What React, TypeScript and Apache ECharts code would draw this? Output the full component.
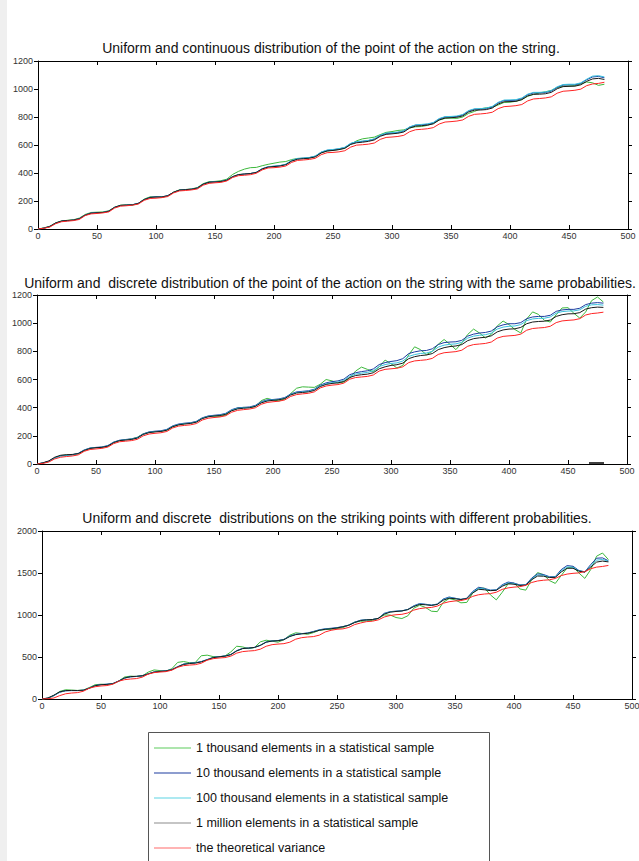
import React, { useEffect, useRef } from "react";
import * as echarts from "echarts";

const xValues = [
  0, 5, 10, 15, 20, 25, 30, 35, 40, 45, 50, 55, 60, 65, 70, 75, 80, 85, 90, 95,
  100, 105, 110, 115, 120, 125, 130, 135, 140, 145, 150, 155, 160, 165, 170, 175, 180, 185, 190, 195,
  200, 205, 210, 215, 220, 225, 230, 235, 240, 245, 250, 255, 260, 265, 270, 275, 280, 285, 290, 295,
  300, 305, 310, 315, 320, 325, 330, 335, 340, 345, 350, 355, 360, 365, 370, 375, 380, 385, 390, 395,
  400, 405, 410, 415, 420, 425, 430, 435, 440, 445, 450, 455, 460, 465, 470, 475, 480,
];

// Panel 1
const p1Red = [
  0, 5, 14, 38, 52, 56, 60, 68, 96, 108, 111, 115, 122, 150, 163, 166, 170, 178, 205, 218,
  220, 224, 232, 258, 272, 275, 279, 286, 313, 326, 330, 333, 343, 368, 381, 384, 388, 398, 422, 436,
  438, 442, 450, 476, 490, 493, 497, 505, 531, 545, 547, 551, 559, 585, 599, 602, 606, 614, 640, 654,
  657, 661, 669, 695, 709, 712, 716, 724, 750, 764, 767, 771, 779, 805, 819, 822, 826, 834, 860, 874,
  877, 881, 889, 915, 929, 932, 936, 944, 970, 984, 987, 991, 999, 1024, 1036, 1040, 1048,
];
const p1Blue = [
  0, 6, 18, 42, 56, 60, 63, 74, 100, 114, 117, 118, 128, 155, 168, 170, 173, 184, 210, 226,
  230, 229, 238, 262, 278, 282, 284, 293, 320, 334, 337, 340, 350, 374, 388, 392, 396, 405, 430, 444,
  448, 452, 462, 488, 502, 506, 510, 520, 548, 562, 566, 572, 582, 610, 622, 626, 632, 642, 668, 682,
  686, 690, 700, 728, 742, 744, 748, 758, 786, 800, 801, 804, 815, 843, 856, 856, 860, 872, 902, 918,
  918, 920, 932, 960, 972, 972, 975, 985, 1012, 1028, 1030, 1030, 1040, 1066, 1086, 1090, 1080,
];
const p1Cyan = [
  0, 6, 17, 41, 55, 59, 63, 73, 99, 113, 116, 119, 127, 154, 167, 170, 174, 183, 209, 225,
  229, 230, 237, 262, 277, 281, 284, 292, 319, 333, 337, 340, 349, 374, 388, 392, 396, 405, 431, 445,
  449, 453, 463, 490, 504, 507, 511, 521, 550, 564, 568, 574, 584, 612, 624, 628, 633, 644, 670, 685,
  688, 692, 702, 730, 744, 747, 751, 761, 789, 803, 804, 807, 818, 846, 859, 860, 864, 876, 905, 921,
  922, 924, 936, 963, 976, 976, 979, 989, 1016, 1032, 1034, 1034, 1044, 1070, 1092, 1095, 1086,
];
const p1Black = [
  0, 6, 18, 43, 57, 61, 64, 73, 99, 113, 116, 118, 127, 155, 169, 171, 173, 183, 210, 225,
  229, 229, 238, 263, 278, 281, 284, 292, 320, 334, 336, 339, 348, 374, 389, 393, 396, 404, 429, 442,
  446, 450, 459, 485, 498, 502, 506, 515, 543, 557, 561, 567, 576, 604, 616, 620, 626, 636, 662, 676,
  680, 684, 693, 721, 735, 738, 742, 751, 779, 793, 795, 798, 808, 836, 849, 850, 853, 864, 893, 909,
  910, 912, 924, 951, 962, 963, 966, 976, 1002, 1017, 1019, 1020, 1030, 1055, 1072, 1076, 1068,
];
const p1Green = [
  0, 8, 20, 44, 58, 62, 66, 78, 104, 118, 120, 122, 130, 156, 170, 172, 170, 182, 214, 230,
  228, 226, 236, 264, 280, 282, 286, 296, 324, 338, 340, 345, 356, 390, 412, 428, 438, 440, 452, 462,
  470, 478, 482, 496, 504, 505, 508, 518, 545, 558, 562, 568, 578, 605, 630, 644, 650, 656, 674, 690,
  696, 704, 708, 722, 730, 732, 740, 755, 778, 790, 792, 790, 800, 826, 840, 858, 866, 870, 886, 904,
  906, 912, 924, 948, 962, 972, 980, 990, 1010, 1020, 1022, 1024, 1036, 1050, 1044, 1026, 1034,
];

// Panel 2
const p2Red = [
  0, 4, 14, 36, 48, 53, 57, 65, 90, 103, 107, 111, 120, 145, 158, 162, 166, 175, 200, 213,
  218, 222, 231, 256, 269, 274, 278, 287, 312, 325, 330, 334, 343, 368, 381, 386, 390, 399, 424, 437,
  442, 446, 455, 480, 493, 498, 502, 512, 540, 554, 560, 564, 574, 602, 614, 618, 622, 632, 660, 672,
  676, 680, 690, 720, 732, 736, 740, 750, 778, 790, 794, 798, 808, 836, 848, 852, 856, 866, 894, 906,
  910, 913, 922, 950, 962, 966, 969, 978, 1004, 1016, 1020, 1023, 1032, 1058, 1068, 1072, 1078,
];
const p2Blue = [
  0, 8, 20, 44, 58, 62, 66, 76, 100, 114, 118, 121, 131, 156, 169, 174, 178, 188, 214, 228,
  233, 236, 246, 271, 284, 290, 293, 303, 328, 341, 346, 350, 360, 386, 399, 402, 405, 416, 442, 455,
  458, 462, 472, 497, 512, 516, 520, 531, 560, 576, 585, 590, 602, 634, 648, 656, 662, 675, 706, 720,
  728, 734, 748, 784, 796, 804, 806, 818, 848, 862, 866, 868, 878, 908, 922, 930, 934, 944, 974, 988,
  996, 996, 1004, 1032, 1044, 1048, 1048, 1056, 1084, 1094, 1098, 1098, 1106, 1132, 1142, 1146, 1142,
];
const p2Cyan = [
  0, 7, 19, 42, 56, 60, 64, 74, 98, 112, 116, 119, 129, 154, 167, 172, 176, 186, 211, 225,
  230, 233, 243, 268, 281, 287, 290, 300, 325, 338, 343, 347, 357, 382, 395, 399, 402, 412, 438, 451,
  455, 459, 468, 494, 508, 512, 516, 527, 555, 570, 578, 582, 594, 624, 638, 645, 650, 662, 692, 706,
  714, 718, 731, 764, 777, 785, 788, 800, 830, 844, 850, 853, 864, 894, 908, 914, 918, 929, 958, 972,
  978, 980, 990, 1018, 1030, 1034, 1035, 1044, 1071, 1082, 1086, 1087, 1095, 1120, 1130, 1132, 1128,
];
const p2Black = [
  0, 8, 22, 48, 62, 66, 68, 74, 96, 110, 116, 118, 127, 152, 166, 170, 174, 184, 210, 223,
  228, 231, 240, 265, 278, 284, 288, 297, 322, 335, 341, 344, 353, 378, 391, 396, 399, 409, 434, 447,
  452, 456, 465, 490, 504, 508, 512, 522, 550, 565, 572, 576, 586, 614, 628, 634, 638, 648, 676, 690,
  700, 705, 716, 748, 762, 770, 774, 784, 812, 826, 834, 838, 848, 876, 890, 896, 900, 910, 938, 952,
  958, 960, 970, 996, 1008, 1012, 1014, 1022, 1048, 1060, 1066, 1067, 1075, 1100, 1110, 1114, 1112,
];
const p2Green = [
  0, 6, 18, 44, 60, 64, 66, 72, 96, 112, 116, 118, 126, 152, 166, 172, 178, 190, 214, 226,
  230, 232, 240, 264, 278, 286, 290, 300, 326, 338, 340, 338, 348, 380, 398, 402, 400, 408, 450, 466,
  455, 448, 462, 500, 538, 548, 546, 544, 566, 600, 590, 575, 582, 610, 660, 688, 672, 656, 690, 738,
  712, 682, 700, 775, 832, 812, 776, 800, 850, 884, 850, 812, 860, 920, 958, 930, 895, 920, 980, 1015,
  990, 955, 930, 1030, 1080, 1062, 1020, 1008, 1060, 1108, 1110, 1070, 1036, 1080, 1160, 1186, 1150,
];

// Panel 3
const p3Red = [
  0, 3, 12, 40, 62, 71, 76, 92, 128, 146, 155, 160, 176, 212, 230, 238, 243, 260, 296, 314,
  321, 326, 343, 378, 397, 404, 409, 426, 462, 480, 488, 493, 510, 546, 564, 571, 576, 593, 628, 647,
  654, 659, 676, 712, 730, 738, 743, 760, 798, 818, 830, 835, 852, 886, 905, 921, 926, 942, 976, 994,
  1003, 1008, 1024, 1058, 1076, 1085, 1090, 1106, 1140, 1158, 1167, 1172, 1188, 1222, 1241, 1250, 1255, 1271, 1305, 1323,
  1332, 1337, 1353, 1387, 1405, 1414, 1419, 1435, 1469, 1487, 1496, 1501, 1517, 1551, 1570, 1578, 1590,
];
const p3Blue = [
  0, 10, 40, 80, 98, 100, 100, 104, 130, 160, 172, 176, 184, 215, 250, 264, 268, 276, 300, 322,
  330, 336, 350, 385, 416, 426, 432, 446, 470, 495, 504, 512, 530, 576, 602, 606, 614, 640, 680, 692,
  696, 710, 750, 770, 778, 786, 804, 824, 836, 842, 850, 862, 880, 915, 938, 944, 946, 960, 1020, 1040,
  1046, 1050, 1066, 1110, 1136, 1128, 1118, 1130, 1190, 1214, 1200, 1186, 1200, 1280, 1330, 1316, 1296, 1300, 1360, 1392,
  1380, 1358, 1360, 1440, 1490, 1482, 1456, 1456, 1540, 1588, 1580, 1530, 1514, 1600, 1676, 1680, 1646,
];
const p3Cyan = [
  0, 11, 42, 82, 99, 101, 100, 104, 129, 159, 171, 175, 183, 214, 250, 265, 269, 276, 299, 321,
  329, 335, 349, 384, 414, 424, 430, 444, 468, 494, 503, 511, 529, 574, 601, 606, 614, 639, 678, 691,
  695, 708, 747, 768, 777, 784, 801, 821, 833, 839, 848, 861, 879, 912, 936, 943, 946, 960, 1015, 1037,
  1044, 1049, 1065, 1105, 1131, 1125, 1116, 1128, 1183, 1207, 1197, 1185, 1198, 1271, 1318, 1308, 1293, 1297, 1351, 1382,
  1373, 1355, 1358, 1430, 1477, 1472, 1451, 1452, 1526, 1572, 1568, 1526, 1512, 1585, 1653, 1661, 1640,
];
const p3Black = [
  0, 12, 45, 85, 100, 102, 101, 104, 128, 158, 170, 174, 182, 212, 250, 266, 270, 277, 298, 320,
  328, 334, 348, 382, 412, 422, 428, 442, 466, 492, 502, 510, 528, 572, 600, 606, 614, 638, 676, 690,
  694, 706, 744, 766, 776, 782, 798, 818, 830, 836, 846, 860, 878, 910, 934, 942, 946, 960, 1010, 1034,
  1042, 1048, 1064, 1100, 1126, 1122, 1114, 1126, 1176, 1200, 1194, 1184, 1196, 1262, 1306, 1300, 1290, 1294, 1342, 1372,
  1366, 1352, 1356, 1420, 1464, 1462, 1446, 1448, 1512, 1556, 1556, 1522, 1510, 1570, 1630, 1642, 1632,
];
const p3Green = [
  0, 8, 40, 90, 110, 106, 102, 106, 136, 170, 176, 172, 180, 214, 262, 272, 268, 274, 320, 346,
  338, 332, 360, 436, 446, 432, 436, 515, 522, 505, 502, 512, 560, 628, 620, 600, 612, 680, 700, 688,
  676, 706, 760, 788, 780, 770, 790, 818, 826, 830, 838, 850, 880, 915, 925, 930, 935, 960, 1000, 1000,
  970, 958, 990, 1080, 1116, 1090, 1045, 1040, 1150, 1195, 1180, 1145, 1150, 1260, 1320, 1320, 1240, 1180, 1270, 1370,
  1380, 1310, 1296, 1420, 1505, 1480, 1410, 1376, 1470, 1560, 1572, 1500, 1436, 1540, 1700, 1738, 1660,
];

const seriesNames = [
  "1 thousand elements in a statistical sample",
  "10 thousand elements in a statistical sample",
  "100 thousand elements in a statistical sample",
  "1 million elements in a statistical sample",
  "the theoretical variance",
];
const lineColors = ["#3cb83c", "#1c3ca0", "#38c0dc", "#1a1a1a", "#ff2424"];
const legendColors = ["#5ccc5c", "#1c3ca0", "#5cd4e4", "#8c8c8c", "#ff6a6a"];

const titles = [
  "Uniform and continuous distribution of the point of the action on the string.",
  "Uniform and  discrete distribution of the point of the action on the string with the same probabilities.",
  "Uniform and discrete  distributions on the striking points with different probabilities.",
];
const yMaxes = [1200, 1200, 2000];
const yIntervals = [200, 200, 500];
const xMax = 500;
const xInterval = 50;

const panels = [
  [p1Green, p1Blue, p1Cyan, p1Black, p1Red],
  [p2Green, p2Blue, p2Cyan, p2Black, p2Red],
  [p3Green, p3Blue, p3Cyan, p3Black, p3Red],
];

const FONT = "'Liberation Sans', Arial, sans-serif";

export default function App() {
  const ref = useRef<HTMLDivElement>(null);

  useEffect(() => {
    document.body.style.margin = "0";
    if (!ref.current) return;
    const chart = echarts.init(ref.current, undefined, { renderer: "svg" });

    const grids = [
      { left: 38, top: 61, width: 590, height: 168 },
      { left: 37, top: 295, width: 590, height: 169 },
      { left: 42, top: 531, width: 590, height: 168 },
    ].map((g) => ({ ...g, outerBoundsMode: "none", containLabel: false, show: false }));

    const titleLayout = [
      { cx: 331, top: 39.5 },
      { cx: 330, top: 274.5 },
      { cx: 337, top: 509.5 },
    ];

    const xAxes: any[] = [];
    const yAxes: any[] = [];
    const series: any[] = [];
    const plain = (v: number) => String(v);

    panels.forEach((panel, i) => {
      const baseX = {
        gridIndex: i,
        type: "value",
        min: 0,
        max: xMax,
        interval: xInterval,
        splitLine: { show: false },
        axisLine: { show: true, onZero: false, lineStyle: { color: "#000", width: 1 } },
        axisTick: { show: true, inside: true, length: 4, lineStyle: { color: "#000" } },
      };
      xAxes.push({
        ...baseX,
        position: "bottom",
        axisLabel: { show: true, fontSize: 9, color: "#333", margin: 2, fontFamily: FONT, formatter: plain },
      });
      xAxes.push({ ...baseX, position: "top", axisLabel: { show: false } });

      const baseY = {
        gridIndex: i,
        type: "value",
        min: 0,
        max: yMaxes[i],
        interval: yIntervals[i],
        splitLine: { show: false },
        axisLine: { show: true, onZero: false, lineStyle: { color: "#000", width: 1 } },
        axisTick: { show: true, inside: false, length: 4, lineStyle: { color: "#000" } },
      };
      yAxes.push({
        ...baseY,
        position: "left",
        axisLabel: { show: true, fontSize: 9, color: "#333", margin: 5, fontFamily: FONT, formatter: plain },
      });
      yAxes.push({ ...baseY, position: "right", axisLabel: { show: false } });

      panel.forEach((vals, j) => {
        series.push({
          type: "line",
          name: seriesNames[j],
          xAxisIndex: 2 * i,
          yAxisIndex: 2 * i,
          symbol: "none",
          showSymbol: false,
          lineStyle: { color: lineColors[j], width: 1 },
          itemStyle: { color: lineColors[j] },
          emphasis: { disabled: true },
          data: xValues.map((x, k) => [x, vals[k]]),
        });
      });
    });

    chart.setOption({
      animation: false,
      backgroundColor: "#ffffff",
      title: titles.map((t, i) => ({
        text: t,
        left: titleLayout[i].cx,
        top: titleLayout[i].top,
        textAlign: "center",
        padding: 0,
        textStyle: { fontSize: 14, lineHeight: 16, fontWeight: "normal", color: "#111", fontFamily: FONT },
      })),
      grid: grids,
      xAxis: xAxes,
      yAxis: yAxes,
      legend: {
        orient: "vertical",
        left: 154,
        top: 741,
        padding: 0,
        icon: "rect",
        itemWidth: 37,
        itemHeight: 1,
        itemGap: 11,
        selectedMode: false,
        textStyle: { fontSize: 12.5, color: "#111", fontFamily: FONT, lineHeight: 14 },
        data: seriesNames.map((n, i) => ({
          name: n,
          icon: "rect",
          itemStyle: { color: legendColors[i], borderWidth: 0 },
        })),
      },
      graphic: [
        { type: "rect", shape: { x: 0, y: 0, width: 7, height: 861 }, style: { fill: "#efefef" }, silent: true },
        {
          type: "rect",
          shape: { x: 148.5, y: 732.5, width: 341, height: 140 },
          style: { fill: "none", stroke: "#555", lineWidth: 1 },
          silent: true,
        },
        {
          type: "line",
          shape: { x1: 589, y1: 463, x2: 604, y2: 463 },
          style: { stroke: "#000", lineWidth: 1.5 },
          silent: true,
        },
      ],
      series,
    });

    return () => chart.dispose();
  }, []);

  return <div ref={ref} style={{ width: 639, height: 861 }} />;
}
